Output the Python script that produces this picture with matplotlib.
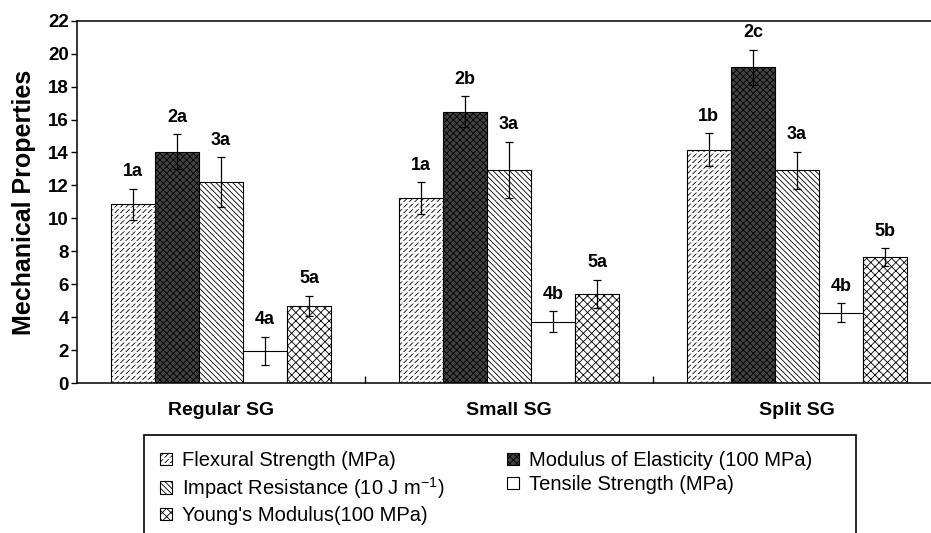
import numpy as np
import matplotlib.pyplot as plt
from matplotlib.legend_handler import HandlerBase
from matplotlib.patches import Rectangle

plt.rcParams['font.family'] = ['Liberation Sans', 'DejaVu Sans']
plt.rcParams['mathtext.default'] = 'regular'
plt.rcParams['hatch.linewidth'] = 0.6

# data
groups = ["Regular SG", "Small SG", "Split SG"]

flexural = [10.85, 11.23, 14.16]
flexural_err = [0.95, 0.97, 1.00]
modulus = [14.04, 16.48, 19.17]
modulus_err = [1.05, 0.93, 1.07]
impact = [12.20, 12.94, 12.91]
impact_err = [1.50, 1.72, 1.13]
tensile = [1.96, 3.73, 4.26]
tensile_err = [0.85, 0.65, 0.57]
young = [4.67, 5.43, 7.64]
young_err = [0.63, 0.85, 0.56]

flexural_lbl = ["1a", "1a", "1b"]
modulus_lbl = ["2a", "2b", "2c"]
impact_lbl = ["3a", "3a", "3a"]
tensile_lbl = ["4a", "4b", "4b"]
young_lbl = ["5a", "5a", "5b"]

series = [
    ("Flexural Strength (MPa)", flexural, flexural_err, flexural_lbl, "white", "//////"),
    ("Modulus of Elasticity (100 MPa)", modulus, modulus_err, modulus_lbl, "#424242", "xxxxx"),
    ("Impact Resistance (10 J m$^{-1}$)", impact, impact_err, impact_lbl, "white", "\\\\\\\\\\\\"),
    ("Tensile Strength (MPa)", tensile, tensile_err, tensile_lbl, "white", ""),
    ("Young's Modulus(100 MPa)", young, young_err, young_lbl, "white", "xxxx"),
]


def set_hatch_lw(patch, lw):
    if hasattr(patch, "set_hatch_linewidth"):
        patch.set_hatch_linewidth(lw)


class FlexHandler(HandlerBase):
    # slashes broken by white rows, like the bars
    def create_artists(self, legend, orig, xd, yd, width, height, fontsize, trans):
        a = Rectangle((-xd, -yd), width, height, facecolor="white", edgecolor="black",
                      hatch="//////", lw=0, transform=trans)
        b = Rectangle((-xd, -yd), width, height, facecolor="none", edgecolor="white",
                      hatch="---", lw=0, transform=trans)
        set_hatch_lw(b, 1.2)
        c = Rectangle((-xd, -yd), width, height, facecolor="none", edgecolor="black",
                      lw=0.8, transform=trans)
        return [a, b, c]


fig = plt.figure(figsize=(9.31, 5.33), dpi=100)
ax = fig.add_axes([77 / 931, 150 / 533, 864 / 931, 362.3 / 533])

x = np.arange(len(groups))
w = 0.153
handles = {}
for i, (name, vals, errs, lbls, fc, hatch) in enumerate(series):
    pos = x + (i - 2) * w
    if i == 0:
        ax.bar(pos, vals, w, color=fc, edgecolor="black", linewidth=0, hatch=hatch)
        over = ax.bar(pos, vals, w, color="none", edgecolor="white", linewidth=0, hatch="---")
        for p in over:
            set_hatch_lw(p, 1.2)
        bars = ax.bar(pos, vals, w, yerr=errs, color="none", edgecolor="black", linewidth=0.8,
                      label=name, capsize=3,
                      error_kw=dict(ecolor="black", elinewidth=0.9, capthick=0.9))
    else:
        bars = ax.bar(pos, vals, w, yerr=errs, color=fc, edgecolor="black", linewidth=0.8,
                      hatch=hatch, label=name, capsize=3,
                      error_kw=dict(ecolor="black", elinewidth=0.9, capthick=0.9))
    handles[name] = bars
    for p, v, e, t in zip(pos, vals, errs, lbls):
        ax.annotate(t, (p, v + e), xytext=(0, 6), textcoords="offset points",
                    ha="center", va="bottom", fontsize=13, fontweight="bold")

ax.set_xlim(-0.5, 2.5)
ax.set_ylim(0, 22)
ax.set_yticks(np.arange(0, 23, 2))
ax.set_xticks(x)
ax.set_xticklabels(groups, fontsize=14, fontweight="bold")
ax.set_xticks([0.5, 1.5], minor=True)
ax.tick_params(axis="x", which="major", length=0, pad=14)
ax.tick_params(axis="x", which="minor", direction="in", length=5, width=1)
ax.tick_params(axis="y", direction="out", length=4, width=1, pad=2, labelsize=13.5)
for lab in ax.get_yticklabels():
    lab.set_fontweight("bold")
for s in ["top", "left", "bottom"]:
    ax.spines[s].set_linewidth(1.1)
ax.spines["right"].set_visible(False)

fig.text(24 / 931, 1 - 202 / 533, "Mechanical Properties", rotation=90,
         ha="center", va="center", fontsize=18, fontweight="bold")

order = ["Flexural Strength (MPa)", "Impact Resistance (10 J m$^{-1}$)",
         "Young's Modulus(100 MPa)", "Modulus of Elasticity (100 MPa)",
         "Tensile Strength (MPa)"]
leg = fig.legend([handles[n] for n in order], order, ncol=2, loc="upper left",
                 bbox_to_anchor=(144 / 931, 1 - 435 / 533),
                 bbox_transform=fig.transFigure, borderaxespad=0, frameon=False,
                 fontsize=14.5, handlelength=0.6, handleheight=0.6, handletextpad=0.5,
                 labelspacing=0.25, columnspacing=3.1, borderpad=0.8,
                 handler_map={handles[order[0]]: FlexHandler()})

# legend box runs off the bottom of the picture
frame = Rectangle((144 / 931, -0.05), 712 / 931, 1 - 435 / 533 + 0.05,
                  transform=fig.transFigure, facecolor="none", edgecolor="black",
                  lw=1.2, clip_on=False)
fig.add_artist(frame)

fig.savefig("out.png", dpi=100)
